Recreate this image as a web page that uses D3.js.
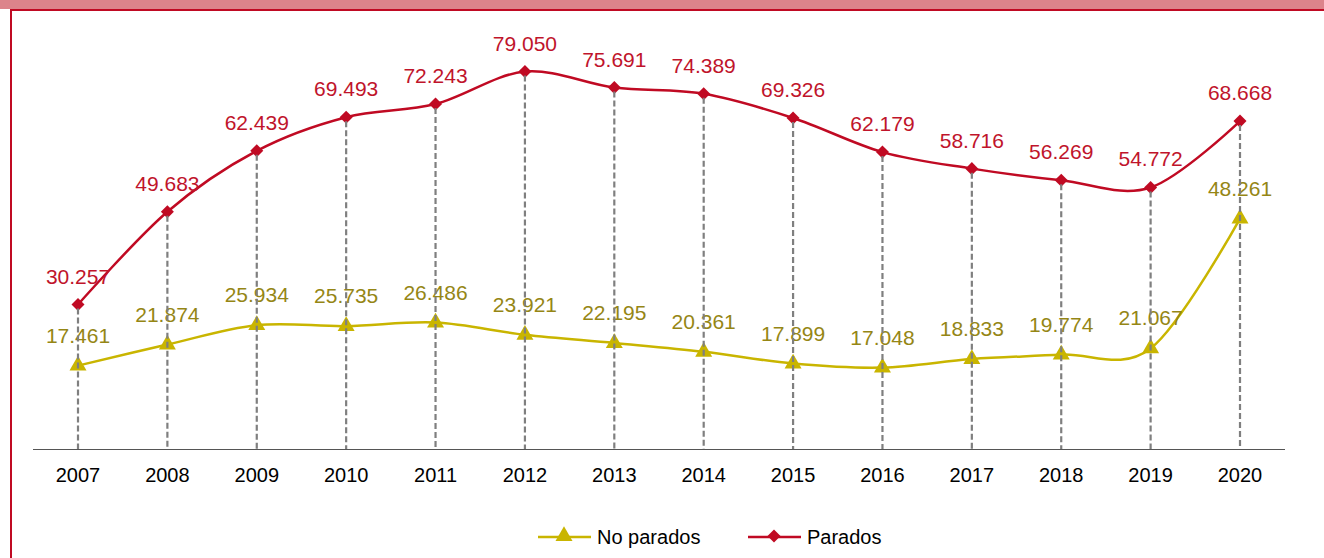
<!DOCTYPE html>
<html lang="es">
<head>
<meta charset="UTF-8">
<title>Parados y no parados</title>
<script src="https://d3js.org/d3.v7.min.js"></script>
<style>
    body { margin: 0; background: #fff; }
    svg { display: block; font-family: "Liberation Sans", Arial, sans-serif; }
    .tick-label { font-size: 20px; fill: #000; }
    .val-label { font-size: 21px; }
</style>
</head>
<body>
<div id="chart"></div>
<script>
    // chart data
    const years = ["2007","2008","2009","2010","2011","2012","2013","2014","2015","2016","2017","2018","2019","2020"];
    const parados = [30.257, 49.683, 62.439, 69.493, 72.243, 79.050, 75.691, 74.389, 69.326, 62.179, 58.716, 56.269, 54.772, 68.668];
    const noParados = [17.461, 21.874, 25.934, 25.735, 26.486, 23.921, 22.195, 20.361, 17.899, 17.048, 18.833, 19.774, 21.067, 48.261];
    const seriesNames = ["No parados", "Parados"];

    const width = 1324, height = 558;
    const red = "#C00A23", redLabel = "#C0142B";
    const yellow = "#C9B500", yellowLabel = "#958615";

    const svg = d3.select("#chart").append("svg")
        .attr("width", width).attr("height", height);

    // frame: pink band on top + red border on the left
    svg.append("rect").attr("x", 0).attr("y", 0).attr("width", width).attr("height", 9)
        .attr("fill", "#DC848B");
    svg.append("line").attr("x1", 11).attr("x2", width).attr("y1", 10).attr("y2", 10)
        .attr("stroke", red).attr("stroke-width", 2);
    svg.append("line").attr("x1", 11).attr("x2", 11).attr("y1", 9).attr("y2", height)
        .attr("stroke", red).attr("stroke-width", 2);

    const x = d3.scalePoint().domain(years).range([78, 1240]);
    const y = d3.scaleLinear().domain([0, 80]).range([449, 449 - 80 * 4.775]);

    // category axis
    svg.append("line").attr("x1", 33).attr("x2", 1285).attr("y1", 449.5).attr("y2", 449.5)
        .attr("stroke", "#555").attr("stroke-width", 1.2);
    svg.selectAll(".tick-label").data(years).join("text")
        .attr("class", "tick-label")
        .attr("x", d => x(d)).attr("y", 482)
        .attr("text-anchor", "middle")
        .text(d => d);

    const line = d3.line()
        .x((d, i) => x(years[i]))
        .y(d => y(d))
        .curve(d3.curveCardinal.tension(0));

    function drawSeries(vals, color) {
        svg.append("path").datum(vals)
            .attr("d", line)
            .attr("fill", "none")
            .attr("stroke", color)
            .attr("stroke-width", 2.5);
    }
    drawSeries(noParados, yellow);
    drawSeries(parados, red);

    const tri = d3.symbol().type(d3.symbolTriangle).size(125);
    const dia = d3.symbol().type(d3.symbolSquare).size(85);

    svg.selectAll(".m-np").data(noParados).join("path")
        .attr("class", "m-np")
        .attr("d", tri)
        .attr("transform", (d, i) => `translate(${x(years[i])},${y(d)})`)
        .attr("fill", yellow);
    svg.selectAll(".m-p").data(parados).join("path")
        .attr("class", "m-p")
        .attr("d", dia)
        .attr("transform", (d, i) => `translate(${x(years[i])},${y(d)}) rotate(45)`)
        .attr("fill", red);

    const fmt = v => v.toFixed(3);
    svg.selectAll(".lbl-np").data(noParados).join("text")
        .attr("class", "val-label")
        .attr("x", (d, i) => x(years[i]))
        .attr("y", d => y(d) - 23)
        .attr("text-anchor", "middle")
        .attr("fill", yellowLabel)
        .text(fmt);
    svg.selectAll(".lbl-p").data(parados).join("text")
        .attr("class", "val-label")
        .attr("x", (d, i) => x(years[i]))
        .attr("y", d => y(d) - 21)
        .attr("text-anchor", "middle")
        .attr("fill", redLabel)
        .text(fmt);

    // drop lines from top point to axis
    svg.selectAll(".drop").data(years).join("line")
        .attr("x1", d => x(d)).attr("x2", d => x(d))
        .attr("y1", (d, i) => y(Math.max(parados[i], noParados[i])) + 4)
        .attr("y2", 449)
        .attr("stroke", "#7F7F7F")
        .attr("stroke-width", 2.2)
        .attr("stroke-dasharray", "6,3");

    // legend
    const legend = [
        { name: seriesNames[0], color: yellow, sym: tri, rot: 0, x0: 538 },
        { name: seriesNames[1], color: red, sym: dia, rot: 45, x0: 748 }
    ];
    const lg = svg.selectAll(".lg").data(legend).join("g")
        .attr("transform", d => `translate(${d.x0},537)`);
    lg.append("line").attr("x1", 0).attr("x2", 53).attr("y1", 0).attr("y2", 0)
        .attr("stroke", d => d.color).attr("stroke-width", 2.5);
    lg.append("path").attr("d", d => d.sym())
        .attr("transform", d => `translate(26,-1) rotate(${d.rot})`)
        .attr("fill", d => d.color);
    lg.append("text").attr("x", 59).attr("y", 7)
        .attr("class", "tick-label")
        .text(d => d.name);
</script>
</body>
</html>
